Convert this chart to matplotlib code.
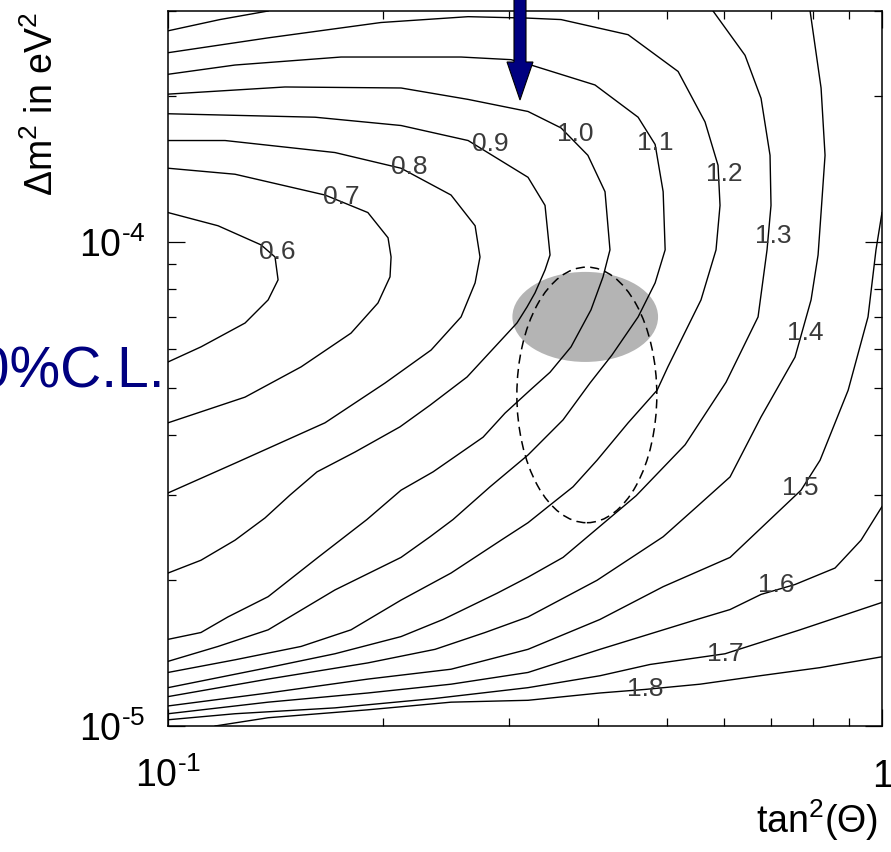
import numpy as np
import matplotlib
matplotlib.use("Agg")
import matplotlib.pyplot as plt
from matplotlib.patches import Ellipse, FancyArrow
from matplotlib.ticker import FixedLocator, FixedFormatter, NullFormatter

plt.rcParams['font.family'] = ['Liberation Sans', 'DejaVu Sans']
plt.rcParams['mathtext.fontset'] = 'custom'
plt.rcParams['mathtext.rm'] = 'Liberation Sans'
plt.rcParams['mathtext.it'] = 'Liberation Sans:italic'
plt.rcParams['mathtext.bf'] = 'Liberation Sans:bold'

nan = np.nan

# iso-lines of the ratio, (tan^2 theta, delta m^2 [eV^2]) along each line
tan2_0p6 = [0.1, 0.1175, 0.135, 0.1412, 0.1426, 0.1381, 0.1282, 0.1112, 0.1]
dm2_0p6 = [1.15e-4, 1.08e-4, 9.86e-5, 9.31e-5, 8.35e-5, 7.59e-5, 6.80e-5, 6.07e-5, 5.65e-5]

tan2_0p7 = [0.1, 0.1241, 0.1659, 0.1905, 0.2033, 0.2053, 0.2046, 0.1968, 0.1804, 0.1536, 0.1282, 0.1]
dm2_0p7 = [1.42e-4, 1.38e-4, 1.25e-4, 1.15e-4, 1.02e-4, 9.31e-5, 8.47e-5, 7.48e-5, 6.48e-5, 5.52e-5, 4.78e-5, 4.23e-5]

tan2_0p8 = [0.1, 0.1202, 0.1713, 0.212, 0.2491, 0.2692, 0.2735, 0.2692, 0.2573, 0.2336, 0.2013, 0.1659, 0.1241, 0.1]
dm2_0p8 = [1.62e-4, 1.62e-4, 1.53e-4, 1.42e-4, 1.25e-4, 1.08e-4, 9.31e-5, 8.23e-5, 7.00e-5, 5.98e-5, 5.11e-5, 4.23e-5, 3.49e-5, 3.03e-5]

tan2_0p9 = [0.1, 0.1607, 0.212, 0.2632, 0.3193, 0.3373, 0.3428, 0.3373, 0.3266, 0.3183, 0.3081, 0.2623, 0.2328,
            0.2113, 0.1827, 0.1617, 0.1482, 0.1367, 0.1241, 0.1112, 0.1]
dm2_0p9 = [1.84e-4, 1.81e-4, 1.74e-4, 1.62e-4, 1.36e-4, 1.19e-4, 9.40e-5, 8.75e-5, 7.85e-5, 7.34e-5, 6.80e-5, 5.26e-5, 4.60e-5,
           4.15e-5, 3.68e-5, 3.35e-5, 3.00e-5, 2.69e-5, 2.42e-5, 2.20e-5, 2.07e-5]

tan2_1p0 = [0.1, 0.1458, 0.212, 0.2632, 0.3193, 0.3552, 0.3873, 0.4093, 0.4159, 0.4067, 0.3912, 0.3668, 0.3428, 0.3214,
            0.2965, 0.2762, 0.2351, 0.212, 0.1899, 0.1622, 0.1381, 0.1213, 0.1112, 0.1]
dm2_1p0 = [2.02e-4, 2.09e-4, 2.08e-4, 1.97e-4, 1.86e-4, 1.72e-4, 1.51e-4, 1.27e-4, 9.63e-5, 8.47e-5, 7.24e-5, 6.07e-5, 5.38e-5, 4.94e-5,
           4.43e-5, 3.95e-5, 3.35e-5, 3.07e-5, 2.67e-5, 2.23e-5, 1.85e-5, 1.68e-5, 1.56e-5, 1.51e-5]

tan2_1p1 = [0.1, 0.1241, 0.1747, 0.2573, 0.3022, 0.3224, 0.3963, 0.4554, 0.4811, 0.4937, 0.4969, 0.4811, 0.4554, 0.4186,
            0.3899, 0.3575, 0.3193, 0.2825, 0.2507, 0.2328, 0.212, 0.1713, 0.1381, 0.1175, 0.1]
dm2_1p1 = [2.22e-4, 2.32e-4, 2.41e-4, 2.41e-4, 2.38e-4, 2.32e-4, 2.11e-4, 1.81e-4, 1.59e-4, 1.27e-4, 9.63e-5, 8.23e-5, 7.00e-5, 5.84e-5,
           5.11e-5, 4.29e-5, 3.63e-5, 3.12e-5, 2.67e-5, 2.46e-5, 2.23e-5, 1.91e-5, 1.58e-5, 1.46e-5, 1.36e-5]

tan2_1p2 = [0.1, 0.1381, 0.1987, 0.2632, 0.3193, 0.3552, 0.441, 0.5181, 0.5651, 0.5893, 0.5931, 0.5855, 0.5578, 0.5013,
            0.4842, 0.441, 0.3989, 0.3692, 0.3428, 0.3193, 0.2927, 0.2491, 0.212, 0.1804, 0.1536, 0.1241, 0.1]
dm2_1p2 = [2.46e-4, 2.64e-4, 2.84e-4, 2.92e-4, 2.90e-4, 2.88e-4, 2.68e-4, 2.25e-4, 1.77e-4, 1.44e-4, 1.19e-4, 9.63e-5, 7.59e-5, 5.52e-5,
           4.94e-5, 4.23e-5, 3.54e-5, 3.12e-5, 2.86e-5, 2.63e-5, 2.42e-5, 2.07e-5, 1.82e-5, 1.58e-5, 1.46e-5, 1.37e-5, 1.29e-5]

tan2_1p3 = [0.1, 0.1182, 0.1381, nan, 0.5799, 0.6429, 0.677, 0.6969, 0.6991, 0.6902, 0.6705, 0.6047, 0.5299, 0.4525,
            0.3575, 0.3193, 0.2889, 0.2428, 0.212, 0.1713, 0.1381, 0.1]
dm2_1p3 = [2.73e-4, 2.88e-4, 3.0e-4, nan, 3.0e-4, 2.43e-4, 1.98e-4, 1.51e-4, 1.19e-4, 9.63e-5, 7.00e-5, 5.13e-5, 3.81e-5, 2.99e-5,
           2.23e-5, 2.03e-5, 1.88e-5, 1.66e-5, 1.53e-5, 1.41e-5, 1.32e-5, 1.20e-5]

tan2_1p4 = [0.793, 0.8216, 0.8322, 0.8216, 0.8137, 0.7955, 0.7553, 0.677, 0.6126, 0.5507, 0.4937, 0.3989, 0.3193, 0.278,
            0.2366, 0.1905, 0.1381, 0.1]
dm2_1p4 = [3.0e-4, 2.08e-4, 1.51e-4, 1.15e-4, 9.40e-5, 7.59e-5, 5.78e-5, 4.35e-5, 3.27e-5, 2.84e-5, 2.46e-5, 2.00e-5, 1.68e-5, 1.56e-5,
           1.44e-5, 1.35e-5, 1.25e-5, 1.15e-5]

tan2_1p5 = [1.0, 0.9808, 0.9559, 0.8966, 0.8189, 0.7702, 0.6969, 0.6126, 0.4937, 0.4027, 0.3193, 0.2491, 0.1905, 0.1381, 0.1]
dm2_1p5 = [1.15e-4, 9.63e-5, 7.00e-5, 4.94e-5, 3.54e-5, 3.07e-5, 2.67e-5, 2.23e-5, 1.94e-5, 1.66e-5, 1.44e-5, 1.31e-5, 1.25e-5,
           1.17e-5, 1.10e-5]

tan2_1p6 = [1.0, 0.9346, 0.8595, 0.7553, 0.677, 0.6126, 0.5507, 0.4027, 0.3193, 0.2491, 0.1905, 0.1381, 0.1]
dm2_1p6 = [2.84e-5, 2.42e-5, 2.12e-5, 1.96e-5, 1.87e-5, 1.74e-5, 1.66e-5, 1.44e-5, 1.29e-5, 1.22e-5, 1.17e-5, 1.12e-5, 1.06e-5]

tan2_1p7 = [0.1, 0.1241, 0.1713, 0.2366, 0.3193, 0.4027, 0.4733, 0.6028, 0.7677, 1.0]
dm2_1p7 = [1.03e-5, 1.06e-5, 1.09e-5, 1.14e-5, 1.20e-5, 1.27e-5, 1.34e-5, 1.41e-5, 1.58e-5, 1.80e-5]

tan2_1p8 = [0.1164, 0.1381, 0.1905, 0.2491, 0.3193, 0.4027, 0.4658, 0.5561, 0.6748, 0.8189, 1.0]
dm2_1p8 = [1.0e-5, 1.04e-5, 1.08e-5, 1.12e-5, 1.13e-5, 1.17e-5, 1.19e-5, 1.22e-5, 1.27e-5, 1.32e-5, 1.39e-5]

levels = [0.6, 0.7, 0.8, 0.9, 1.0, 1.1, 1.2, 1.3, 1.4, 1.5, 1.6, 1.7, 1.8]
level_tan2 = [tan2_0p6, tan2_0p7, tan2_0p8, tan2_0p9, tan2_1p0, tan2_1p1, tan2_1p2,
              tan2_1p3, tan2_1p4, tan2_1p5, tan2_1p6, tan2_1p7, tan2_1p8]
level_dm2 = [dm2_0p6, dm2_0p7, dm2_0p8, dm2_0p9, dm2_1p0, dm2_1p1, dm2_1p2,
             dm2_1p3, dm2_1p4, dm2_1p5, dm2_1p6, dm2_1p7, dm2_1p8]

# where each level is annotated
label_tan2 = [0.1421, 0.1747, 0.2176, 0.2825, 0.3715, 0.4811, 0.6008, 0.7037, 0.7803, 0.7677, 0.7106, 0.6028, 0.4658]
label_dm2 = [9.54e-5, 1.24e-4, 1.43e-4, 1.59e-4, 1.67e-4, 1.60e-4, 1.38e-4, 1.03e-4, 6.48e-5, 3.10e-5, 1.96e-5, 1.41e-5, 1.19e-5]

# allowed regions: centre and half-extent in decades (tan^2, dm^2)
shaded_center = (0.384, 7.0e-5)
shaded_half_dec = (0.102, 0.093)
dashed_center = (0.386, 4.83e-5)
dashed_half_dec = (0.098, 0.264)

fig = plt.figure(figsize=(8.91, 8.52), dpi=100)
ax = fig.add_axes([0.1886, 0.1479, 0.8013, 0.8392])
ax.set_xscale('log')
ax.set_yscale('log')
ax.set_xlim(0.1, 1.0)
ax.set_ylim(1e-5, 3e-4)

# ellipses live in log10 space
log_space = ax.transLimits + ax.transAxes
ax.add_patch(Ellipse((np.log10(shaded_center[0]), np.log10(shaded_center[1])),
                     2 * shaded_half_dec[0], 2 * shaded_half_dec[1],
                     transform=log_space, facecolor='#b4b4b4', edgecolor='none', zorder=1))
ax.add_patch(Ellipse((np.log10(dashed_center[0]), np.log10(dashed_center[1])),
                     2 * dashed_half_dec[0], 2 * dashed_half_dec[1],
                     transform=log_space, fill=False, edgecolor='black', lw=1.1,
                     linestyle=(0, (6, 3.5)), zorder=3))

for lev, xs, ys, lx, ly in zip(levels, level_tan2, level_dm2, label_tan2, label_dm2):
    ax.plot(xs, ys, color='black', lw=1.0, zorder=2)
    ax.text(lx, ly, f'{lev:.1f}', fontsize=19, color='#3a3a3a', ha='center', va='center', zorder=4)

# ticks
ax.xaxis.set_major_locator(FixedLocator([0.1, 1.0]))
ax.xaxis.set_major_formatter(FixedFormatter([r'$10^{\text{-}1}$', r'$1$']))
ax.xaxis.set_minor_locator(FixedLocator([0.2, 0.3, 0.4, 0.5, 0.6, 0.7, 0.8, 0.9]))
ax.xaxis.set_minor_formatter(NullFormatter())
ax.yaxis.set_major_locator(FixedLocator([1e-5, 1e-4]))
ax.yaxis.set_major_formatter(FixedFormatter([r'$10^{\text{-}5}$', r'$10^{\text{-}4}$']))
ax.yaxis.set_minor_locator(FixedLocator([k * 1e-5 for k in range(2, 10)] + [2e-4, 3e-4]))
ax.yaxis.set_minor_formatter(NullFormatter())

ax.tick_params(which='both', direction='in', top=True, right=True, width=0.9, labelsize=27)
ax.tick_params(which='major', length=12)
ax.tick_params(which='minor', length=5.5)
ax.tick_params(axis='y', pad=16)
ax.tick_params(axis='x', pad=44)
for t in ax.xaxis.get_major_ticks():
    t.label1.set_verticalalignment('baseline')
for sp in ax.spines.values():
    sp.set_linewidth(1.1)

fig.text(42 / 891, 1 - 104 / 852, 'Δm$^{2}$ in eV$^{2}$', rotation=90, fontsize=27,
         ha='center', va='center')
fig.text(878 / 891, 1 - 833 / 852, 'tan$^{2}$(Θ)', fontsize=27, ha='right', va='baseline')
fig.text(165 / 891, 1 - 388 / 852, '90%C.L.', fontsize=41, color='#000080', ha='right', va='baseline')

fig.patches.append(FancyArrow(5.20, 8.7, 0, -1.18, width=0.12, head_width=0.26, head_length=0.38,
                              length_includes_head=True, facecolor='#000080', edgecolor='black',
                              lw=0.8, transform=fig.dpi_scale_trans, figure=fig))

fig.savefig('out.png', dpi=100)
